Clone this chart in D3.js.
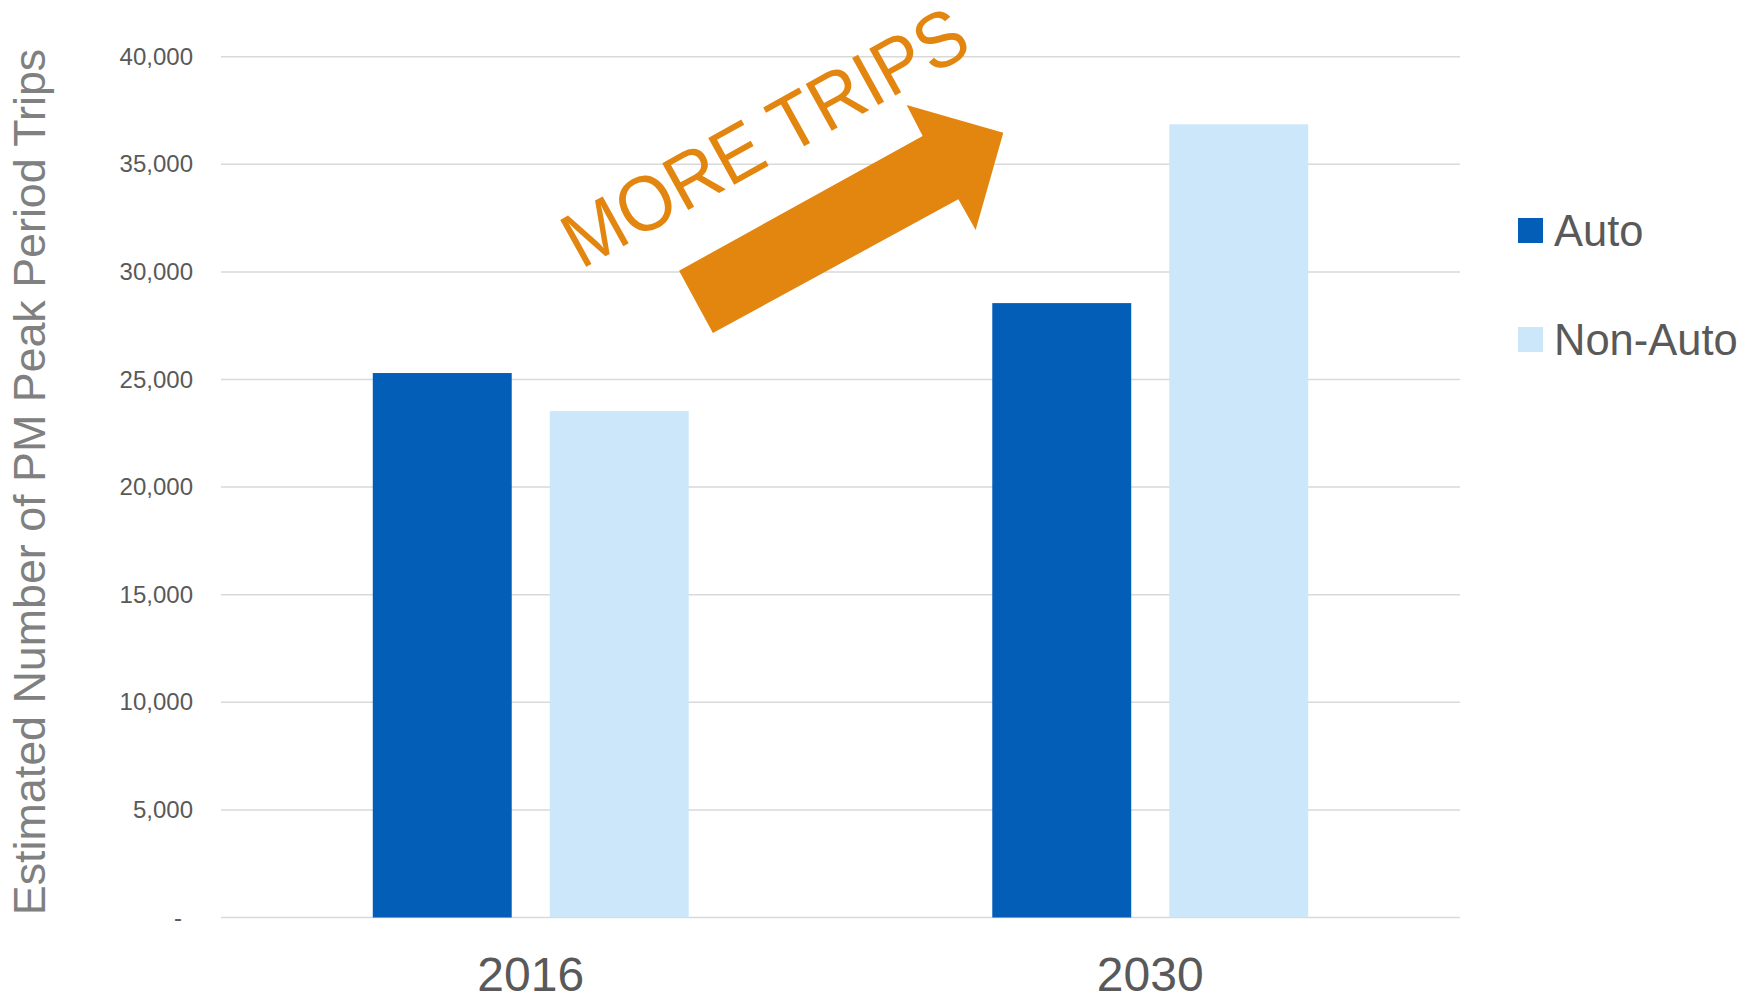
<!DOCTYPE html>
<html>
<head>
<meta charset="utf-8">
<script src="https://cdn.jsdelivr.net/npm/d3@7/dist/d3.min.js"></script>
<style>
  html, body { margin: 0; padding: 0; background: #fff; }
  svg text { font-family: "Liberation Sans", Arial, sans-serif; }
</style>
</head>
<body>
<div id="chart"></div>
<script>
// chart values
var years = ["2016", "2030"];
var seriesNames = ["Auto", "Non-Auto"];
var autoTrips = [25300, 28550];
var nonAutoTrips = [23530, 36860];
var yTicks = [0, 5000, 10000, 15000, 20000, 25000, 30000, 35000, 40000];
var yTitle = "Estimated Number of PM Peak Period Trips";
var annotation = "MORE TRIPS";

(function() {
    'use strict';

    var width = 1758,
        height = 998;
    var plot = {left: 221, right: 1460, top: 56.7, bottom: 917.5};
    var colors = {"Auto": "#035EB8", "Non-Auto": "#CCE6FA"};
    var orange = "#E3860F";

    var data = years.map(function(yr, i) {
        return {year: yr, values: [
            {name: "Auto", value: autoTrips[i]},
            {name: "Non-Auto", value: nonAutoTrips[i]}
        ]};
    });

    var x0 = d3.scaleBand()
        .domain(years)
        .range([plot.left, plot.right])
        .paddingInner(0.49)
        .paddingOuter(0.245);

    var x1 = d3.scaleBand()
        .domain(seriesNames)
        .range([0, x0.bandwidth()])
        .paddingInner(0.215)
        .paddingOuter(0);

    var y = d3.scaleLinear()
        .domain([0, 40000])
        .range([plot.bottom, plot.top]);

    // fraction of plot width -> pixels, for the annotation
    var xf = d3.scaleLinear().domain([0, 1]).range([plot.left, plot.right]);

    var svg = d3.select("#chart").append("svg")
        .attr("width", width)
        .attr("height", height);

    // gridlines
    svg.append("g")
        .selectAll("line")
        .data(yTicks)
        .enter().append("line")
        .attr("x1", plot.left)
        .attr("x2", plot.right)
        .attr("y1", function(d) { return y(d); })
        .attr("y2", function(d) { return y(d); })
        .attr("stroke", "#D9D9D9")
        .attr("stroke-width", 1.5);

    // y axis
    var yAxis = d3.axisLeft(y)
        .tickValues(yTicks)
        .tickSize(0)
        .tickPadding(28)
        .tickFormat(function(d) { return d === 0 ? "-" : d3.format(",")(d); });

    var yg = svg.append("g")
        .attr("transform", "translate(" + plot.left + ",0)")
        .call(yAxis);
    yg.select(".domain").remove();
    yg.selectAll("text")
        .style("font-size", "24px")
        .attr("fill", "#595959")
        .attr("dx", function(d) { return d === 0 ? -11 : 0; });

    // x axis labels
    var xAxis = d3.axisBottom(x0).tickSize(0).tickPadding(0);
    var xg = svg.append("g")
        .attr("transform", "translate(0," + plot.bottom + ")")
        .call(xAxis);
    xg.select(".domain").remove();
    xg.selectAll("text")
        .attr("y", 73)
        .attr("dy", 0)
        .style("font-size", "48px")
        .attr("fill", "#595959");

    // bars
    svg.append("g")
        .selectAll("g")
        .data(data)
        .enter().append("g")
        .attr("transform", function(d) { return "translate(" + x0(d.year) + ",0)"; })
        .selectAll("rect")
        .data(function(d) { return d.values; })
        .enter().append("rect")
        .attr("x", function(d) { return x1(d.name); })
        .attr("width", x1.bandwidth())
        .attr("y", function(d) { return y(d.value); })
        .attr("height", function(d) { return y(0) - y(d.value); })
        .attr("fill", function(d) { return colors[d.name]; });

    // y title
    svg.append("text")
        .attr("transform", "translate(45,482) rotate(-90)")
        .attr("text-anchor", "middle")
        .style("font-size", "44.8px")
        .attr("fill", "#808080")
        .text(yTitle);

    // legend
    var legend = svg.append("g")
        .selectAll("g")
        .data(seriesNames)
        .enter().append("g")
        .attr("transform", function(d, i) { return "translate(1518," + (218 + i * 109) + ")"; });
    legend.append("rect")
        .attr("width", 25)
        .attr("height", 25)
        .attr("fill", function(d) { return colors[d]; });
    legend.append("text")
        .attr("x", 36)
        .attr("y", 28)
        .style("font-size", "43.5px")
        .attr("fill", "#595959")
        .text(function(d) { return d; });

    // annotation arrow, in (plot fraction, value) coordinates
    var arrowShape = [
        [0.397, 27160], [0.3697, 30056], [0.5663, 36315], [0.5534, 37755],
        [0.6314, 36468], [0.6091, 31947], [0.5951, 33374]
    ];
    svg.append("path")
        .attr("d", d3.line()
            .x(function(d) { return xf(d[0]); })
            .y(function(d) { return y(d[1]); })(arrowShape) + "Z")
        .attr("fill", orange);

    svg.append("text")
        .attr("transform", "translate(" + xf(0.2905) + "," + y(30100) + ") rotate(-29)")
        .style("font-size", "78px")
        .attr("textLength", 450)
        .attr("lengthAdjust", "spacingAndGlyphs")
        .attr("fill", orange)
        .text(annotation);
})();
</script>
</body>
</html>
